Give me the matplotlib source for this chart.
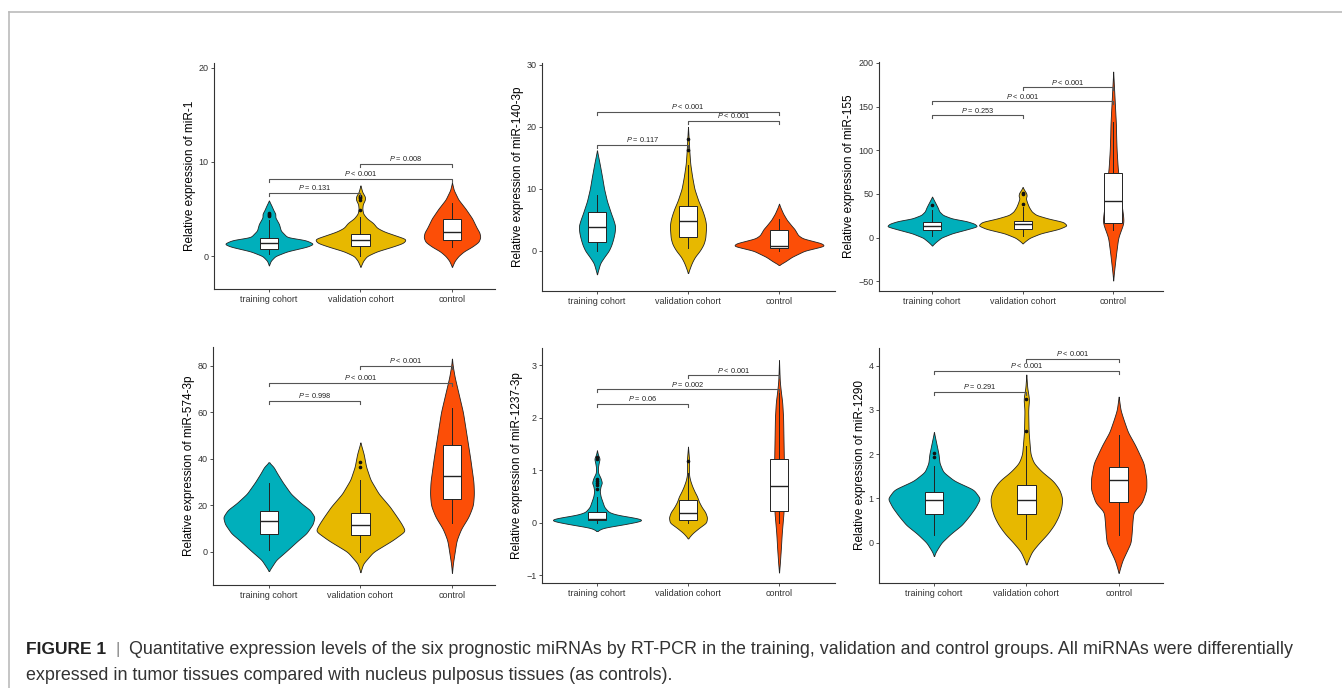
import numpy as np
import matplotlib
matplotlib.use('Agg')
from matplotlib import pyplot as plt

plt.rcParams['font.family'] = ['Liberation Sans', 'DejaVu Sans']
plt.rcParams['mathtext.fontset'] = 'custom'
plt.rcParams['mathtext.it'] = 'Liberation Sans:italic'
plt.rcParams['mathtext.rm'] = 'Liberation Sans'

groups = ['training cohort', 'validation cohort', 'control']
colors = ['#00AFBB', '#E7B800', '#FC4E07']
mirnas = ['miR-1', 'miR-140-3p', 'miR-155', 'miR-574-3p', 'miR-1237-3p', 'miR-1290']

# violin outlines: (y values, half widths) per group
mir1_shape = [
    ([-1.0, -0.5, 0, 0.5, 1.0, 1.3, 1.7, 2.0, 2.7, 3.4, 4.1, 4.5, 4.85, 5.3, 5.9],
     [0, 0.02, 0.07, 0.2, 0.42, 0.49, 0.4, 0.2, 0.13, 0.11, 0.07, 0.07, 0.05, 0.03, 0]),
    ([-1.15, -0.5, 0, 0.5, 1.0, 1.4, 1.8, 2.2, 2.6, 3.0, 3.5, 4.0, 4.5, 5.0, 5.5, 6.0, 6.3, 6.8, 7.5],
     [0, 0.03, 0.07, 0.18, 0.35, 0.47, 0.5, 0.38, 0.26, 0.18, 0.14, 0.07, 0.03, 0.02, 0.025, 0.05, 0.05, 0.02, 0]),
    ([-1.15, -0.5, 0, 0.5, 1.0, 1.5, 2.0, 2.5, 3.0, 4.0, 5.0, 6.0, 7.0, 7.8],
     [0, 0.03, 0.07, 0.13, 0.22, 0.29, 0.31, 0.3, 0.27, 0.22, 0.15, 0.07, 0.02, 0]),
]
mir140_shape = [
    ([-3.8, -2, -1, 0, 1, 2, 3, 4, 5, 6, 8, 10, 12, 14, 16.2],
     [0, 0.035, 0.08, 0.13, 0.16, 0.18, 0.195, 0.2, 0.18, 0.155, 0.11, 0.078, 0.055, 0.03, 0]),
    ([-3.6, -2, -1, 0, 1, 2, 3, 4, 5, 6, 7, 8, 10, 12, 14, 16, 18, 20],
     [0, 0.04, 0.075, 0.13, 0.17, 0.19, 0.195, 0.2, 0.19, 0.17, 0.145, 0.115, 0.07, 0.045, 0.025, 0.015, 0.008, 0]),
    ([-2.3, -1.7, -1, 0, 0.5, 0.8, 1.2, 1.5, 2, 2.5, 3, 3.5, 4, 5, 6, 7, 7.6],
     [0, 0.07, 0.14, 0.28, 0.42, 0.5, 0.47, 0.39, 0.26, 0.21, 0.19, 0.17, 0.14, 0.085, 0.045, 0.015, 0]),
]
mir155_shape = [
    ([-9, -5, 0, 5, 10, 13, 16, 19, 22, 26, 30, 35, 40, 47],
     [0, 0.04, 0.1, 0.22, 0.4, 0.5, 0.47, 0.38, 0.22, 0.12, 0.08, 0.06, 0.035, 0]),
    ([-6.5, -3, 0, 5, 10, 14, 18, 22, 26, 30, 35, 40, 45, 48, 51, 55, 58],
     [0, 0.04, 0.08, 0.2, 0.4, 0.49, 0.45, 0.28, 0.15, 0.1, 0.07, 0.05, 0.035, 0.045, 0.04, 0.015, 0]),
    ([-49, -40, -20, 0, 10, 17, 25, 40, 60, 80, 100, 115, 130, 150, 170, 190],
     [0, 0.008, 0.03, 0.055, 0.09, 0.115, 0.11, 0.09, 0.07, 0.05, 0.038, 0.033, 0.03, 0.02, 0.01, 0]),
]
mir574_shape = [
    ([-8.2, -3.4, 0, 5, 8, 12, 15, 18, 21, 25, 30, 33.8, 36.6, 38.5],
     [0, 0.08, 0.18, 0.32, 0.41, 0.48, 0.5, 0.45, 0.35, 0.24, 0.15, 0.09, 0.05, 0]),
    ([-8.7, -5, 0, 5, 9, 12, 15, 19.5, 25, 31, 36.6, 42, 47],
     [0, 0.03, 0.14, 0.35, 0.49, 0.45, 0.4, 0.32, 0.2, 0.11, 0.062, 0.036, 0]),
    ([-9, -5, 0, 5, 10, 15, 20, 25, 30, 40, 50, 60, 65, 70, 75, 80, 83],
     [0, 0.01, 0.03, 0.05, 0.1, 0.18, 0.23, 0.24, 0.235, 0.2, 0.16, 0.12, 0.09, 0.06, 0.03, 0.008, 0]),
]
mir1237_shape = [
    ([-0.16, -0.1, -0.03, 0.03, 0.06, 0.1, 0.15, 0.2, 0.3, 0.4, 0.5, 0.6, 0.7, 0.76, 0.85, 0.95, 1.05, 1.15, 1.22, 1.3, 1.38],
     [0, 0.06, 0.3, 0.48, 0.51, 0.4, 0.22, 0.13, 0.08, 0.06, 0.04, 0.03, 0.04, 0.055, 0.04, 0.012, 0.01, 0.02, 0.03, 0.01, 0]),
    ([-0.3, -0.2, -0.1, 0, 0.1, 0.2, 0.3, 0.4, 0.5, 0.6, 0.7, 0.8, 0.9, 1.1, 1.2, 1.45],
     [0, 0.05, 0.12, 0.2, 0.21, 0.19, 0.15, 0.12, 0.1, 0.07, 0.045, 0.025, 0.012, 0.01, 0.012, 0]),
    ([-0.95, -0.8, -0.5, -0.2, 0, 0.2, 0.5, 1, 1.5, 2, 2.3, 2.5, 2.7, 3.1],
     [0, 0.008, 0.02, 0.03, 0.04, 0.05, 0.055, 0.055, 0.05, 0.045, 0.035, 0.02, 0.008, 0]),
]
mir1290_shape = [
    ([-0.3, -0.2, 0, 0.2, 0.4, 0.6, 0.8, 1.0, 1.2, 1.4, 1.6, 1.8, 2.0, 2.2, 2.5],
     [0, 0.02, 0.08, 0.18, 0.3, 0.38, 0.45, 0.5, 0.43, 0.22, 0.1, 0.06, 0.05, 0.03, 0]),
    ([-0.49, -0.2, 0, 0.2, 0.4, 0.6, 0.8, 1.0, 1.2, 1.4, 1.6, 1.8, 2.0, 2.5, 3.0, 3.25, 3.5, 3.8],
     [0, 0.06, 0.14, 0.23, 0.3, 0.35, 0.38, 0.39, 0.36, 0.29, 0.17, 0.08, 0.045, 0.025, 0.02, 0.03, 0.01, 0]),
    ([-0.68, -0.4, 0, 0.2, 0.5, 0.7, 0.9, 1.2, 1.45, 1.8, 2.2, 2.5, 2.8, 3.0, 3.3],
     [0, 0.04, 0.13, 0.14, 0.15, 0.16, 0.25, 0.3, 0.3, 0.27, 0.18, 0.1, 0.05, 0.02, 0]),
]

# box stats: whisker low, q1, median, q3, whisker high
mir1_box = [[0.25, 0.7, 1.38, 1.95, 3.8], [0.0, 1.03, 1.74, 2.34, 4.15], [0.96, 1.74, 2.6, 3.9, 5.6]]
mir140_box = [[0.0, 1.35, 3.8, 6.2, 9.0], [0.5, 2.15, 4.85, 7.15, 13.9], [0.0, 0.43, 0.8, 3.3, 5.1]]
mir155_box = [[2, 8.4, 13.3, 18.3, 32], [2, 10, 16, 19.5, 35], [9, 17, 42, 74, 132]]
mir574_box = [[0.7, 7.9, 13.3, 17.5, 29.5], [0, 7.3, 11.5, 16.9, 31], [12.6, 22.7, 32.6, 45.8, 62]]
mir1237_box = [[0, 0.05, 0.07, 0.21, 0.49], [0, 0.05, 0.19, 0.44, 0.94], [0, 0.22, 0.69, 1.21, 2.5]]
mir1290_box = [[0.17, 0.65, 0.96, 1.14, 1.73], [0.08, 0.66, 0.96, 1.31, 2.18], [0.17, 0.93, 1.41, 1.72, 2.44]]

mir1_out = [[4.2, 4.35, 4.5, 4.6], [4.9, 6.0, 6.15, 6.3, 6.4], []]
mir140_out = [[], [16.3, 18.0], []]
mir155_out = [[37], [38, 50, 51], []]
mir574_out = [[], [36.5, 38.5], []]
mir1237_out = [[0.65, 0.72, 0.76, 0.8, 0.84, 1.22, 1.25], [1.17], []]
mir1290_out = [[1.93, 2.03], [2.52, 3.25], []]

# comparisons: group a, group b, bracket height, p text
mir1_p = [(0, 1, 6.7, '= 0.131'), (0, 2, 8.2, '< 0.001'), (1, 2, 9.8, '= 0.008')]
mir140_p = [(0, 1, 17.1, '= 0.117'), (1, 2, 21.0, '< 0.001'), (0, 2, 22.4, '< 0.001')]
mir155_p = [(0, 1, 140, '= 0.253'), (0, 2, 156, '< 0.001'), (1, 2, 172, '< 0.001')]
mir574_p = [(0, 1, 65, '= 0.998'), (0, 2, 72.7, '< 0.001'), (1, 2, 80, '< 0.001')]
mir1237_p = [(0, 1, 2.27, '= 0.06'), (0, 2, 2.54, '= 0.002'), (1, 2, 2.81, '< 0.001')]
mir1290_p = [(0, 1, 3.41, '= 0.291'), (0, 2, 3.89, '< 0.001'), (1, 2, 4.15, '< 0.001')]

shapes = [mir1_shape, mir140_shape, mir155_shape, mir574_shape, mir1237_shape, mir1290_shape]
boxes = [mir1_box, mir140_box, mir155_box, mir574_box, mir1237_box, mir1290_box]
outs = [mir1_out, mir140_out, mir155_out, mir574_out, mir1237_out, mir1290_out]
pvals = [mir1_p, mir140_p, mir155_p, mir574_p, mir1237_p, mir1290_p]

yticks = [[0, 10, 20], [0, 10, 20, 30], [-50, 0, 50, 100, 150, 200],
          [0, 20, 40, 60, 80], [-1, 0, 1, 2, 3], [0, 1, 2, 3, 4]]
ylims = [(-3.5, 20.5), (-6.5, 30.3), (-61, 201), (-14.2, 88), (-1.15, 3.33), (-0.91, 4.4)]
xlims = [(0.4, 3.47), (0.396, 3.615), (0.414, 3.55), (0.39, 3.47), (0.396, 3.615), (0.405, 3.48)]
# axes boxes in pixels: left, top, right, bottom
rects = [(214, 63, 495, 289), (542, 63, 835, 291), (879, 62, 1163, 291),
         (213, 347, 495, 585), (542, 348, 835, 583), (879, 348, 1163, 583)]

W, H = 1342, 688
fig = plt.figure(figsize=(W / 100, H / 100), dpi=100)


def outline(ys, ws, n=400, sig=5):
    yy = np.linspace(ys[0], ys[-1], n)
    w = np.interp(yy, ys, ws)
    k = np.exp(-0.5 * (np.arange(-3 * sig, 3 * sig + 1) / sig) ** 2)
    k /= k.sum()
    w = np.convolve(np.pad(w, 3 * sig, mode='edge'), k, mode='same')[3 * sig:-3 * sig]
    return yy, w


for i in range(6):
    l, t, r, b = rects[i]
    ax = fig.add_axes([l / W, 1 - b / H, (r - l) / W, (b - t) / H])
    ax.set_xlim(*xlims[i])
    ax.set_ylim(*ylims[i])
    for g in range(3):
        ys, ws = shapes[i][g]
        yy, w = outline(ys, ws)
        ax.fill_betweenx(yy, g + 1 - w, g + 1 + w, facecolor=colors[g],
                         edgecolor='#222222', linewidth=0.6, zorder=1)
    stats = []
    for g in range(3):
        lo, q1, med, q3, hi = boxes[i][g]
        stats.append(dict(whislo=lo, q1=q1, med=med, q3=q3, whishi=hi, fliers=outs[i][g]))
    ax.bxp(stats, positions=[1, 2, 3], widths=0.2, patch_artist=True, showcaps=False,
           boxprops=dict(facecolor='white', edgecolor='#222222', linewidth=0.7),
           medianprops=dict(color='#222222', linewidth=1.0),
           whiskerprops=dict(color='#222222', linewidth=0.7),
           flierprops=dict(marker='o', markersize=1.6, markerfacecolor='#111111',
                           markeredgecolor='#111111', linewidth=0),
           manage_ticks=False, zorder=2)
    # brackets
    yr = ylims[i][1] - ylims[i][0]
    tick = 3.0 / (b - t) * yr
    for a, c, y, lab in pvals[i]:
        ax.plot([a + 1, a + 1, c + 1, c + 1], [y - tick, y, y, y - tick],
                color='#555555', linewidth=0.8, zorder=3, clip_on=False)
        ax.text((a + c) / 2 + 1, y + 0.6 / (b - t) * yr, r'$P$ ' + lab,
                ha='center', va='bottom', fontsize=5.3, color='#222222')
    ax.set_xticks([1, 2, 3])
    ax.set_xticklabels(groups, fontsize=6.5, color='#333333')
    ax.set_yticks(yticks[i])
    ax.tick_params(axis='y', labelsize=6.5, length=2, width=0.6, colors='#333333', pad=2)
    ax.tick_params(axis='x', length=2, width=0.6, colors='#333333', pad=2)
    for s in ['top', 'right']:
        ax.spines[s].set_visible(False)
    for s in ['left', 'bottom']:
        ax.spines[s].set_color('#333333')
        ax.spines[s].set_linewidth(0.8)
    ax.set_ylabel('Relative expression of ' + mirnas[i], fontsize=8.5, labelpad=2)

# frame of the figure page
fig.add_artist(plt.Line2D([9 / W, 1], [1 - 12 / H, 1 - 12 / H], color='#bbbbbb', linewidth=1.2))
fig.add_artist(plt.Line2D([9 / W, 9 / W], [1 - 12 / H, 0], color='#bbbbbb', linewidth=1.2))

fig.text(26 / W, 1 - 654 / H, 'FIGURE 1', fontsize=12.5, fontweight='bold', va='baseline',
         color='#222222')
fig.text(115 / W, 1 - 654 / H, '|', fontsize=12.5, va='baseline', color='#888888')
fig.text(129 / W, 1 - 654 / H,
         'Quantitative expression levels of the six prognostic miRNAs by RT-PCR in the training, '
         'validation and control groups. All miRNAs were differentially',
         fontsize=12.9, va='baseline', color='#333333')
fig.text(26 / W, 1 - 680 / H,
         'expressed in tumor tissues compared with nucleus pulposus tissues (as controls).',
         fontsize=12.9, va='baseline', color='#333333')

fig.savefig('out.png', dpi=100)
